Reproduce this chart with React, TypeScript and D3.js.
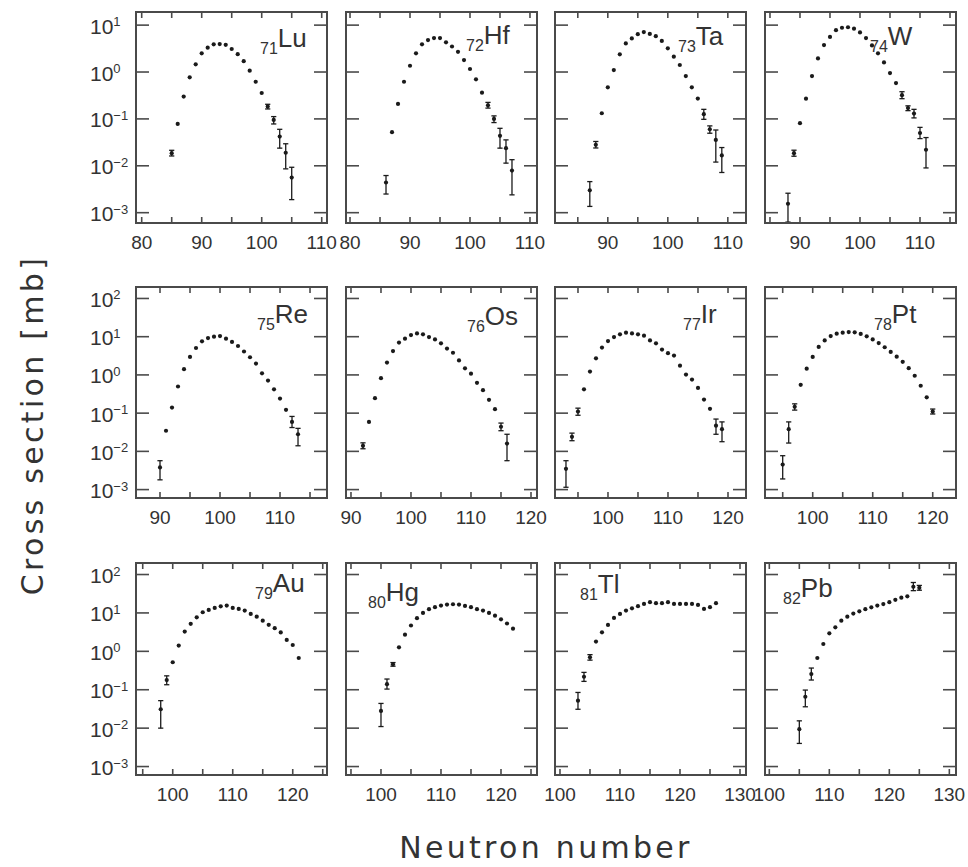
import React from 'react';
import * as d3 from 'd3';

// ---------- data: neutron number N, cross section [mb], error bars [N, low, high] ----------
const LU_N = [85, 86, 87, 88, 89, 90, 91, 92, 93, 94, 95, 96, 97, 98, 99, 100, 101, 102, 103, 104, 105];
const LU_S = [0.0186, 0.078, 0.3, 0.77, 1.46, 2.5, 3.3, 3.9, 3.95, 3.8, 3.1, 2.4, 1.7, 1.07, 0.62, 0.357, 0.183, 0.095, 0.042, 0.019, 0.0056];
const LU_ERR = [[85, 0.0162, 0.0214], [101, 0.163, 0.205], [102, 0.078, 0.112], [103, 0.0238, 0.06], [104, 0.0086, 0.0295], [105, 0.0019, 0.0093]];

const HF_N = [86, 87, 88, 89, 90, 91, 92, 93, 94, 95, 96, 97, 98, 99, 100, 101, 102, 103, 104, 105, 106, 107];
const HF_S = [0.0044, 0.052, 0.209, 0.62, 1.36, 2.5, 3.9, 4.8, 5.3, 5.3, 4.3, 3.5, 2.7, 1.8, 1.16, 0.7, 0.363, 0.195, 0.1, 0.0435, 0.0238, 0.0079];
const HF_ERR = [[86, 0.0025, 0.0062], [103, 0.17, 0.225], [104, 0.0835, 0.116], [105, 0.0238, 0.063], [106, 0.0114, 0.0357], [107, 0.0024, 0.0135]];

const TA_N = [87, 88, 89, 90, 91, 92, 93, 94, 95, 96, 97, 98, 99, 100, 101, 102, 103, 104, 105, 106, 107, 108, 109];
const TA_S = [0.003, 0.028, 0.132, 0.472, 1.1, 2.38, 4.07, 5.2, 6.4, 7.1, 6.5, 5.8, 4.6, 3.2, 2.12, 1.41, 0.82, 0.472, 0.271, 0.126, 0.06, 0.0357, 0.0166];
const TA_ERR = [[87, 0.00136, 0.0046], [88, 0.024, 0.033], [106, 0.098, 0.16], [107, 0.0495, 0.071], [108, 0.012, 0.058], [109, 0.0072, 0.0245]];

const W_N = [88, 89, 90, 91, 92, 93, 94, 95, 96, 97, 98, 99, 100, 101, 102, 103, 104, 105, 106, 107, 108, 109, 110, 111];
const W_S = [0.00155, 0.0186, 0.081, 0.27, 0.82, 1.95, 3.75, 5.6, 7.8, 8.8, 9.0, 8.4, 7.0, 5.3, 3.7, 2.5, 1.6, 0.95, 0.58, 0.32, 0.17, 0.13, 0.05, 0.022];
const W_ERR = [[88, 0.00063, 0.0026], [89, 0.016, 0.0215], [107, 0.27, 0.38], [108, 0.15, 0.19], [109, 0.105, 0.16], [110, 0.038, 0.066], [111, 0.009, 0.04]];

const RE_N = [90, 91, 92, 93, 94, 95, 96, 97, 98, 99, 100, 101, 102, 103, 104, 105, 106, 107, 108, 109, 110, 111, 112, 113];
const RE_S = [0.0038, 0.0346, 0.14, 0.497, 1.41, 2.95, 5.06, 7.55, 9.2, 10, 10.4, 8.9, 7.3, 5.7, 4.1, 2.9, 1.98, 1.1, 0.71, 0.42, 0.24, 0.122, 0.059, 0.028];
const RE_ERR = [[90, 0.0018, 0.0057], [112, 0.042, 0.082], [113, 0.014, 0.04]];

const OS_N = [92, 93, 94, 95, 96, 97, 98, 99, 100, 101, 102, 103, 104, 105, 106, 107, 108, 109, 110, 111, 112, 113, 114, 115, 116];
const OS_S = [0.014, 0.059, 0.246, 0.82, 2.1, 4.2, 7.0, 8.9, 11.0, 12.2, 11.5, 9.8, 8.5, 6.7, 4.9, 3.8, 2.4, 1.49, 1.08, 0.62, 0.4, 0.223, 0.127, 0.044, 0.016];
const OS_ERR = [[92, 0.0117, 0.0167], [115, 0.0347, 0.055], [116, 0.0057, 0.028]];

const IR_N = [93, 94, 95, 96, 97, 98, 99, 100, 101, 102, 103, 104, 105, 106, 107, 108, 109, 110, 111, 112, 113, 114, 115, 116, 117, 118, 119];
const IR_S = [0.0035, 0.024, 0.11, 0.42, 1.22, 2.72, 5.2, 7.7, 9.8, 11.5, 12.7, 12.2, 11.5, 10.6, 8.0, 6.7, 4.6, 3.7, 3.2, 1.75, 1.02, 0.755, 0.458, 0.227, 0.13, 0.047, 0.038];
const IR_ERR = [[93, 0.00115, 0.0057], [94, 0.019, 0.03], [95, 0.088, 0.135], [118, 0.028, 0.07], [119, 0.0179, 0.059]];

const PT_N = [95, 96, 97, 98, 99, 100, 101, 102, 103, 104, 105, 106, 107, 108, 109, 110, 111, 112, 113, 114, 115, 116, 117, 118, 119, 120];
const PT_S = [0.0045, 0.038, 0.146, 0.55, 1.46, 2.95, 5.4, 8.0, 10.4, 12.0, 12.7, 13.2, 13.0, 11.8, 10.2, 8.5, 6.8, 5.3, 4.0, 3.0, 2.2, 1.5, 0.95, 0.52, 0.26, 0.11];
const PT_ERR = [[95, 0.0019, 0.0077], [96, 0.0165, 0.059], [97, 0.12, 0.175], [120, 0.095, 0.128]];

const AU_N = [98, 99, 100, 101, 102, 103, 104, 105, 106, 107, 108, 109, 110, 111, 112, 113, 114, 115, 116, 117, 118, 119, 120, 121];
const AU_S = [0.031, 0.179, 0.52, 1.41, 3.26, 5.2, 7.7, 10.4, 12.0, 13.5, 14.9, 15.5, 13.5, 12.7, 11.5, 9.4, 8.0, 6.3, 4.9, 4.0, 3.1, 1.98, 1.46, 0.67];
const AU_ERR = [[98, 0.01, 0.052], [99, 0.135, 0.23]];

const HG_N = [100, 101, 102, 103, 104, 105, 106, 107, 108, 109, 110, 111, 112, 113, 114, 115, 116, 117, 118, 119, 120, 121, 122];
const HG_S = [0.028, 0.14, 0.458, 1.27, 2.72, 4.7, 7.3, 10, 12.5, 14.1, 15.5, 16.5, 16.8, 16.5, 15.2, 14.1, 12.5, 11.5, 10, 8.5, 6.8, 5.3, 3.9];
const HG_ERR = [[100, 0.011, 0.044], [101, 0.104, 0.19], [102, 0.41, 0.51]];

const TL_N = [103, 104, 105, 106, 107, 108, 109, 110, 111, 112, 113, 114, 115, 116, 117, 118, 119, 120, 121, 122, 123, 124, 125, 126];
const TL_S = [0.052, 0.218, 0.7, 1.79, 3.13, 4.86, 7.4, 9.4, 11.5, 13.2, 15.0, 17.2, 19.0, 17.9, 17.9, 19.0, 17.2, 17.2, 17.2, 17.2, 16.2, 12.7, 14.1, 17.9];
const TL_ERR = [[103, 0.031, 0.085], [104, 0.165, 0.283], [105, 0.59, 0.82]];

const PB_N = [105, 106, 107, 108, 109, 110, 111, 112, 113, 114, 115, 116, 117, 118, 119, 120, 121, 122, 123, 124, 125];
const PB_S = [0.0094, 0.0657, 0.256, 0.67, 1.55, 2.95, 4.23, 6.3, 8.0, 9.6, 11, 12.5, 14, 15.5, 17, 19, 22, 25, 27, 48, 45];
const PB_ERR = [[105, 0.004, 0.0155], [106, 0.036, 0.098], [107, 0.179, 0.367], [124, 38, 62], [125, 39, 52]];

const SYMBOLS = ['Lu', 'Hf', 'Ta', 'W', 'Re', 'Os', 'Ir', 'Pt', 'Au', 'Hg', 'Tl', 'Pb'];
const Z_NUMBERS = [71, 72, 73, 74, 75, 76, 77, 78, 79, 80, 81, 82];
const SERIES_N = [LU_N, HF_N, TA_N, W_N, RE_N, OS_N, IR_N, PT_N, AU_N, HG_N, TL_N, PB_N];
const SERIES_S = [LU_S, HF_S, TA_S, W_S, RE_S, OS_S, IR_S, PT_S, AU_S, HG_S, TL_S, PB_S];
const SERIES_ERR = [LU_ERR, HF_ERR, TA_ERR, W_ERR, RE_ERR, OS_ERR, IR_ERR, PT_ERR, AU_ERR, HG_ERR, TL_ERR, PB_ERR];

// axis ranges (x per panel, y decades per row)
const X_DOMAINS = [
  [79.05, 110.88], [79.33, 111.17], [81.2, 113.03], [84.17, 116],
  [86, 117.83], [89.17, 121], [91.17, 123], [92.05, 123.88],
  [93.88, 125.71], [94.17, 126], [99.17, 131], [99.28, 131.11],
];
const Y_LOG_DOMAINS = [[-3.22, 1.28], [-3.22, 2.3], [-3.22, 2.3]];
const Y_DECADES = [[-3, -2, -1, 0, 1], [-3, -2, -1, 0, 1, 2], [-3, -2, -1, 0, 1, 2]];

// ---------- layout ----------
const W = 968;
const H = 867;
const COL_X = [136, 346, 555, 765];
const PANEL_W = 191;
const ROW_Y = [[12, 223], [287, 498], [563, 775]];
const LABEL_POS = [
  [260, 47], [466, 44], [678, 45], [870, 45],
  [257, 323], [467, 325], [683, 323], [874, 323],
  [255, 592], [368, 601], [580, 593], [783, 597],
];

const FRAME = '#4a4a4a';
const INK = '#1a1a1a';
const TEXT = '#333';
const TICK_FONT = "'Liberation Sans Narrow', 'Liberation Sans', Arial, sans-serif";
const LABEL_FONT = "'Liberation Sans', Arial, sans-serif";
const TITLE_FONT = "'DejaVu Sans', sans-serif";

function Panel({ idx }: { idx: number }) {
  const row = Math.floor(idx / 4);
  const col = idx % 4;
  const x0 = COL_X[col];
  const [top, bottom] = ROW_Y[row];
  const xs = d3.scaleLinear().domain(X_DOMAINS[idx]).range([x0, x0 + PANEL_W]);
  const [ld0, ld1] = Y_LOG_DOMAINS[row];
  const ys = d3.scaleLog().domain([Math.pow(10, ld0), Math.pow(10, ld1)]).range([bottom, top]);
  const [dx0, dx1] = X_DOMAINS[idx];
  const xTicks = d3.range(Math.ceil(dx0 / 5) * 5, dx1 + 0.001, 5);
  const xLabels = xTicks.filter((t) => t % 10 === 0);
  const N = SERIES_N[idx];
  const S = SERIES_S[idx];
  const E = SERIES_ERR[idx];
  const [lx, ly] = LABEL_POS[idx];
  const right = x0 + PANEL_W;
  return (
    <g>
      {E.map(([n, lo, hi], i) => {
        const cx = xs(n);
        return (
          <g key={'e' + i} stroke={INK} strokeWidth={1.3}>
            <line x1={cx} x2={cx} y1={ys(lo)} y2={ys(hi)} />
            <line x1={cx - 2.6} x2={cx + 2.6} y1={ys(lo)} y2={ys(lo)} />
            <line x1={cx - 2.6} x2={cx + 2.6} y1={ys(hi)} y2={ys(hi)} />
          </g>
        );
      })}
      {N.map((n, i) => (
        <circle key={'p' + i} cx={xs(n)} cy={ys(S[i])} r={2.1} fill={INK} />
      ))}
      {xTicks.map((t) => (
        <g key={'xt' + t} stroke={FRAME} strokeWidth={1.6}>
          <line x1={xs(t)} x2={xs(t)} y1={bottom} y2={bottom - 6} />
          <line x1={xs(t)} x2={xs(t)} y1={top} y2={top + 6} />
        </g>
      ))}
      {Y_DECADES[row].map((d) => (
        <g key={'yt' + d} stroke={FRAME} strokeWidth={1.6}>
          <line x1={x0} x2={x0 + 13} y1={ys(Math.pow(10, d))} y2={ys(Math.pow(10, d))} />
          <line x1={right} x2={right - 13} y1={ys(Math.pow(10, d))} y2={ys(Math.pow(10, d))} />
        </g>
      ))}
      <rect x={x0} y={top} width={PANEL_W} height={bottom - top} fill="none" stroke={FRAME} strokeWidth={2} />
      {xLabels.map((t) => (
        <text key={'xl' + t} x={xs(t)} y={bottom + 26} textAnchor="middle" fontSize={19} fontFamily={TICK_FONT} fill={TEXT}>
          {t}
        </text>
      ))}
      {col === 0 &&
        Y_DECADES[row].map((d) => (
          <text key={'yl' + d} x={90} y={ys(Math.pow(10, d)) + 8.5} fontSize={21} fontFamily={TICK_FONT} fill={TEXT}>
            10
            <tspan dy={-7.5} fontSize={13}>{d < 0 ? '\u2212' + Math.abs(d) : String(d)}</tspan>
          </text>
        ))}
      <text x={lx} y={ly} fontFamily={LABEL_FONT} fill={TEXT}>
        <tspan fontSize={16} dy={7}>{Z_NUMBERS[idx]}</tspan>
        <tspan fontSize={26} dy={-7}>{SYMBOLS[idx]}</tspan>
      </text>
    </g>
  );
}

export default function App() {
  return (
    <svg width={W} height={H} style={{ position: 'absolute', left: 0, top: 0, background: '#fff' }}>
      <rect x={0} y={0} width={W} height={H} fill="#fff" />
      {SYMBOLS.map((_, i) => (
        <Panel key={i} idx={i} />
      ))}
      <text
        transform="translate(32,425) rotate(-90)"
        textAnchor="middle"
        dominantBaseline="central"
        fontSize={30}
        letterSpacing={3.3}
        fontFamily={TITLE_FONT}
        fill={TEXT}
      >
        Cross section [mb]
      </text>
      <text x={546} y={858} textAnchor="middle" fontSize={30} letterSpacing={3.3} fontFamily={TITLE_FONT} fill={TEXT}>
        Neutron number
      </text>
    </svg>
  );
}
